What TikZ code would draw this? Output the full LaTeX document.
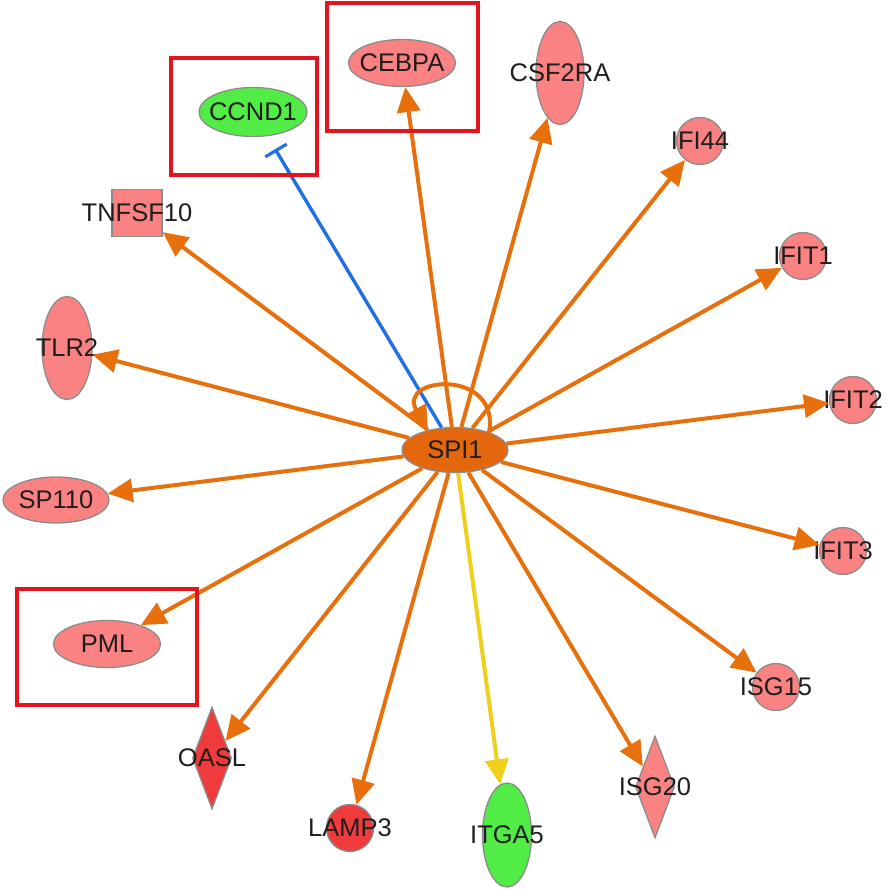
\documentclass[tikz,border=0pt]{standalone}
\usepackage{fontspec}
\setmainfont{Liberation Sans}
\usetikzlibrary{shapes.geometric,arrows.meta,calc}
\definecolor{edgeor}{HTML}{E8700C}
\definecolor{spior}{HTML}{E4670E}
\definecolor{pinkf}{HTML}{FA8282}
\definecolor{redf}{HTML}{EF3B3B}
\definecolor{greenf}{HTML}{52EC46}
\definecolor{edgeblue}{HTML}{1F6FE6}
\definecolor{edgeyel}{HTML}{EFCF1C}
\definecolor{boxred}{HTML}{E3141E}
\definecolor{bordergray}{HTML}{8C8C8C}
\definecolor{labelgray}{HTML}{1E1E1E}
\tikzset{
  gene/.style={draw=bordergray, line width=1.3pt, inner sep=0pt, text=labelgray,
    font=\fontsize{25.5}{30}\selectfont},
  wideell/.style={gene, ellipse, minimum width=107pt, minimum height=47pt},
  tallell/.style={gene, ellipse, minimum width=48pt, minimum height=103pt},
  roundgene/.style={gene, circle, minimum size=47pt},
  tallgem/.style={gene, diamond, minimum width=39pt, minimum height=102pt},
  sqgene/.style={gene, rectangle, minimum width=50pt, minimum height=47pt},
  act/.style={draw=edgeor, line width=4pt, -{Triangle[length=25pt,width=23pt]}},
  yelact/.style={draw=edgeyel, line width=4pt, -{Triangle[length=25pt,width=23pt]}},
  inhib/.style={draw=edgeblue, line width=3.4pt, -{Bar[width=25pt,line width=3.2pt]}, shorten >=15pt},
  redbox/.style={draw=boxred, line width=4.5pt}
}
\begin{document}
\begin{tikzpicture}[x=1pt,y=-1pt]
\useasboundingbox (0,0) rectangle (886,890);
% nodes
\node[wideell, fill=spior, minimum width=106pt, minimum height=45pt] (spi1) at (455,450) {\makebox[0pt]{SPI1}};
\node[wideell, fill=pinkf] (cebpa) at (402,63) {\makebox[0pt]{CEBPA}};
\node[wideell, fill=greenf, minimum width=108pt, minimum height=49pt] (ccnd1) at (253,112) {\makebox[0pt]{CCND1}};
\node[tallell, fill=pinkf] (csf2ra) at (560,73) {\makebox[0pt]{CSF2RA}};
\node[roundgene, fill=pinkf] (ifi44) at (700,141) {\makebox[0pt]{IFI44}};
\node[roundgene, fill=pinkf] (ifit1) at (803,256) {\makebox[0pt]{IFIT1}};
\node[roundgene, fill=pinkf] (ifit2) at (853,400) {\makebox[0pt]{IFIT2}};
\node[roundgene, fill=pinkf] (ifit3) at (843,551) {\makebox[0pt]{IFIT3}};
\node[roundgene, fill=pinkf] (isg15) at (776,687) {\makebox[0pt]{ISG15}};
\node[tallgem, fill=pinkf] (isg20) at (655,787) {\makebox[0pt]{ISG20}};
\node[tallell, fill=greenf, minimum width=49pt, minimum height=104pt] (itga5) at (507,835) {\makebox[0pt]{ITGA5}};
\node[roundgene, fill=redf] (lamp3) at (350,828) {\makebox[0pt]{LAMP3}};
\node[tallgem, fill=redf] (oasl) at (212,758) {\makebox[0pt]{OASL}};
\node[wideell, fill=pinkf] (pml) at (107,644) {\makebox[0pt]{PML}};
\node[wideell, fill=pinkf, minimum width=106pt, minimum height=46pt] (sp110) at (56,500) {\makebox[0pt]{SP110}};
\node[tallell, fill=pinkf, minimum width=50pt] (tlr2) at (67,348) {\makebox[0pt]{TLR2}};
\node[sqgene, fill=pinkf] (tnfsf10) at (137,213) {\makebox[0pt]{TNFSF10}};
% self loop end points
\coordinate (loopstart) at ($(spi1.center)+(34,-17)$);
\coordinate (loopend) at ($(spi1.center)+(-27,-19)$);
% connectors
\foreach \t in {cebpa,csf2ra,ifi44,ifit1,ifit2,ifit3,isg15,isg20,lamp3,oasl,pml,sp110,tlr2,tnfsf10}
  \draw[act] (spi1) -- (\t);
\draw[yelact] (spi1) -- (itga5);
\draw[inhib] (spi1) -- (ccnd1);
\draw[act] (loopstart) .. controls ($(spi1.center)+(46,-82)$) and ($(spi1.center)+(-58,-74)$) .. (loopend);
% highlight boxes
\draw[redbox] (171,58) rectangle (317,175);
\draw[redbox] (327,3) rectangle (478,131);
\draw[redbox] (17,589) rectangle (197,705);
\end{tikzpicture}
\end{document}
